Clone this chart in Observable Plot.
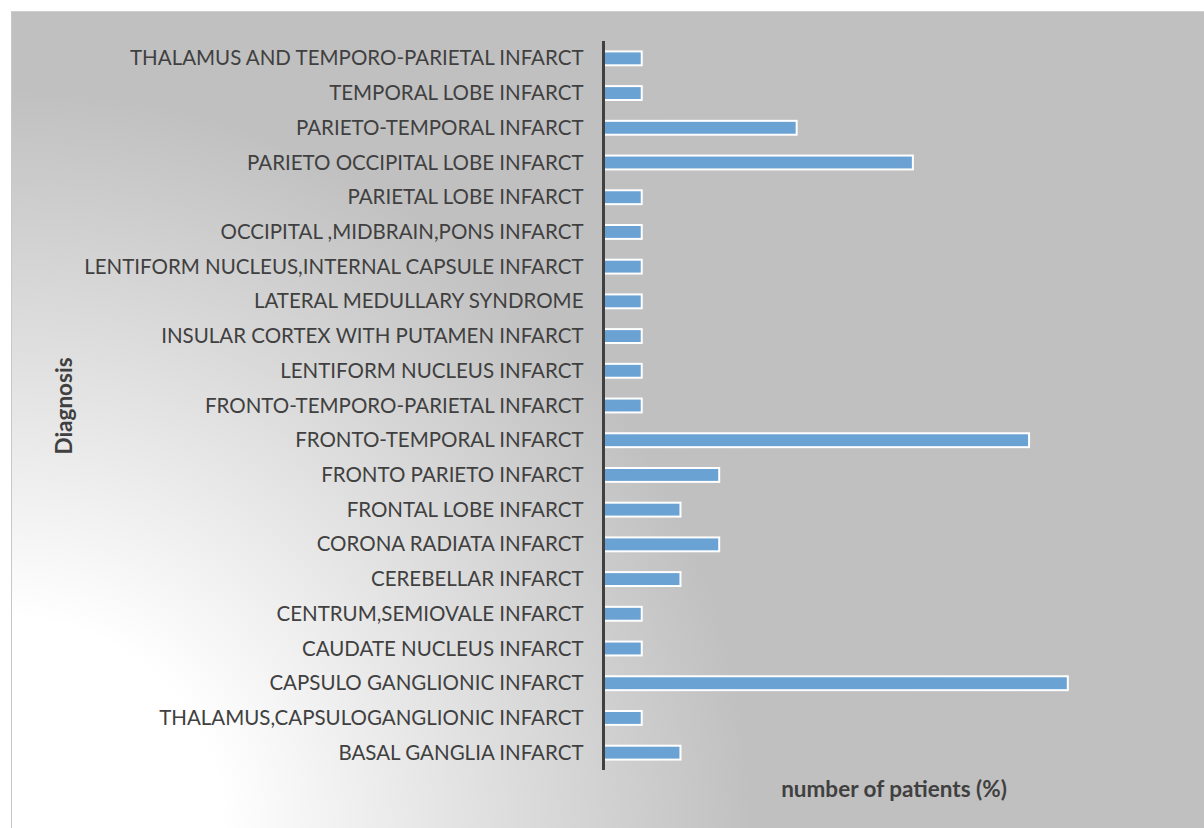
<!DOCTYPE html>
<html>
<head>
<meta charset="utf-8">
<script src="https://cdn.jsdelivr.net/npm/d3@7"></script>
<script src="https://cdn.jsdelivr.net/npm/@observablehq/plot@0.6"></script>
<style>
  html, body { margin: 0; padding: 0; background: #ffffff; }
  #chart {
    position: relative;
    width: 1204px;
    height: 828px;
    overflow: hidden;
  }
  /* chart area panel with a radial fade from the lower-left corner */
  #panel {
    position: absolute;
    left: 11px;
    top: 11px;
    right: -2px;
    bottom: -2px;
    border-left: 1px solid #c8c8c8;
    border-top: 1px solid #cfcfcf;
    background: radial-gradient(circle at 0% 100%, #ffffff 0px, #ffffff 210px, #c0c0c0 740px, #bfbfbf 2000px);
  }
  #chart svg { position: absolute; left: 0; top: 0; }
</style>
</head>
<body>
<div id="chart"><div id="panel"></div></div>
<script>
// Diagnoses, listed top to bottom
const diagnoses = [
  "THALAMUS AND TEMPORO-PARIETAL INFARCT",
  "TEMPORAL LOBE INFARCT",
  "PARIETO-TEMPORAL INFARCT",
  "PARIETO OCCIPITAL LOBE INFARCT",
  "PARIETAL LOBE INFARCT",
  "OCCIPITAL ,MIDBRAIN,PONS INFARCT",
  "LENTIFORM NUCLEUS,INTERNAL CAPSULE INFARCT",
  "LATERAL MEDULLARY SYNDROME",
  "INSULAR CORTEX WITH PUTAMEN INFARCT",
  "LENTIFORM NUCLEUS INFARCT",
  "FRONTO-TEMPORO-PARIETAL INFARCT",
  "FRONTO-TEMPORAL INFARCT",
  "FRONTO PARIETO INFARCT",
  "FRONTAL LOBE INFARCT",
  "CORONA RADIATA INFARCT",
  "CEREBELLAR INFARCT",
  "CENTRUM,SEMIOVALE INFARCT",
  "CAUDATE NUCLEUS INFARCT",
  "CAPSULO GANGLIONIC INFARCT",
  "THALAMUS,CAPSULOGANGLIONIC INFARCT",
  "BASAL GANGLIA INFARCT"
];

// Number of patients per diagnosis, same order
const patients = [1, 1, 5, 8, 1, 1, 1, 1, 1, 1, 1, 11, 3, 2, 3, 2, 1, 1, 12, 1, 2];

const yTitle = "Diagnosis";
const xTitle = "number of patients (%)";

const rows = diagnoses.map((d, i) => ({diagnosis: d, patients: patients[i]}));

const textColor = "#404040";

const chart = Plot.plot({
  width: 1204,
  height: 828,
  marginLeft: 603,
  marginRight: 20,
  marginTop: 41,
  marginBottom: 58,
  style: {
    background: "transparent",
    fontFamily: "Lato, 'Open Sans', sans-serif",
    fontSize: "20.5px",
    color: textColor
  },
  x: {domain: [0, 15], axis: null},
  y: {
    domain: diagnoses,
    paddingInner: 0.6,
    paddingOuter: 0.3,
    round: false,
    label: null,
    tickSize: 0,
    tickPadding: 20
  },
  marks: [
    Plot.barX(rows, {
      x: "patients",
      y: "diagnosis",
      fill: "#6aa2d3",
      stroke: "#ffffff",
      strokeWidth: 2
    }),
    Plot.ruleX([0], {stroke: textColor, strokeWidth: 3}),
    Plot.text([yTitle], {
      frameAnchor: "left",
      textAnchor: "middle",
      rotate: -90,
      dx: -539,
      fontSize: 22.5,
      fontWeight: "bold",
      fill: textColor
    }),
    Plot.text([xTitle], {
      frameAnchor: "bottom",
      textAnchor: "middle",
      dy: 26,
      fontSize: 22.5,
      fontWeight: "bold",
      fill: textColor
    })
  ]
});

document.getElementById("chart").appendChild(chart);
</script>
</body>
</html>
